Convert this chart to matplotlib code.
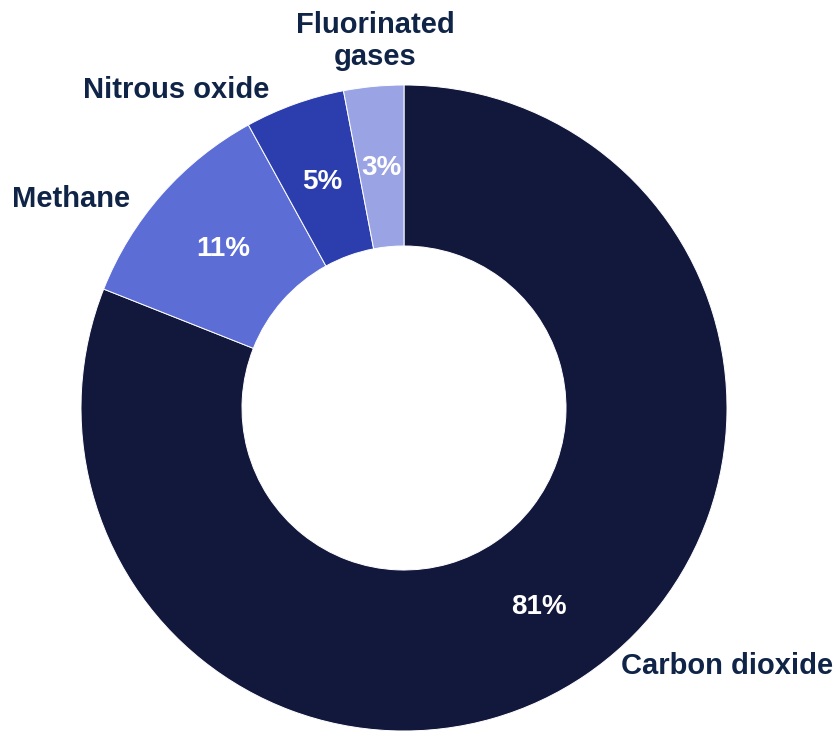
import matplotlib.pyplot as plt

# greenhouse gas shares (%)
gases = ["Carbon dioxide", "Methane", "Nitrous oxide", "Fluorinated\ngases"]
shares = [81, 11, 5, 3]
colors = ["#12173C", "#5C6DD6", "#2C3EAE", "#9AA3E3"]
label_pos = [(727, 666), (71, 199), (176, 90), (375, 41)]

plt.rcParams['font.family'] = ['Liberation Sans', 'DejaVu Sans']

fig = plt.figure(figsize=(8.36, 7.33), dpi=100)
ax = fig.add_axes([0, 0, 1, 1])

wedges, texts, autotexts = ax.pie(
    shares, colors=colors, startangle=90, counterclock=False,
    center=(404, 733 - 408), radius=323,
    wedgeprops=dict(width=161, edgecolor="white", linewidth=0.7),
    autopct="%d%%", pctdistance=0.745,
    textprops=dict(color="white", fontsize=20, fontweight="bold"))

for name, (x, y) in zip(gases, label_pos):
    ax.text(x, 733 - y, name, ha="center", va="center", fontsize=21,
            fontweight="bold", color="#0F2447", linespacing=1.22)

ax.set_xlim(0, 836)
ax.set_ylim(0, 733)
ax.set_aspect("equal")
ax.axis("off")

fig.savefig("out.png", dpi=100)
